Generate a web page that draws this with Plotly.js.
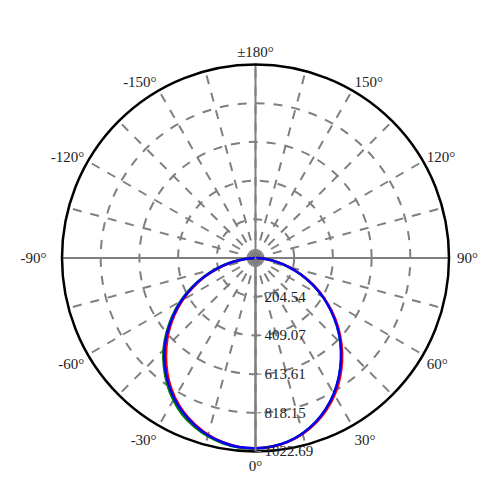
<!DOCTYPE html>
<html><head><meta charset="utf-8">
<script src="https://cdn.plot.ly/plotly-3.0.1.min.js"></script>
<style>html,body{margin:0;padding:0;background:#fff}#chart{width:500px;height:500px}</style>
</head><body><div id="chart"></div>
<script>
// Polar angles (degrees), 0° = downward
var angles = [-90,-85,-80,-75,-70,-65,-60,-55,-50,-45,-40,-35,-30,-25,-20,-15,-10,-5,0,5,10,15,20,25,30,35,40,45,50,55,60,65,70,75,80,85,90];
// Luminous intensity curves
var seriesRed   = [3,52,124,200,280,362,444,522,596,666,733,796,851,898,936,967,989,1002,1005,1001,987,963,929,886,836,777,712,643,570,494,416,337,258,182,112,48,3];
var seriesGreen = [3,56,130,208,292,376,459,538,614,688,753,814,868,914,948,975,994,1005,1007,1000,985,960,925,880,828,768,703,635,563,488,411,333,255,180,110,47,3];
var seriesBlue  = [3,55,128,205,287,370,452,530,607,680,745,805,858,903,940,970,990,1003,1005,1000,985,960,925,880,828,768,703,635,563,488,411,333,255,180,110,47,3];
var seriesNames = ['C0-C180','C90-C270','C45-C225'];
// Axis ticks
var radialTicks = [204.54, 409.07, 613.61, 818.15, 1022.69];
var radialTickText = ['204.54','409.07','613.61','818.15','1022.69'];
var angleTicks = [0,15,30,45,60,75,90,105,120,135,150,165,180,195,210,225,240,255,270,285,300,315,330,345];
var angleTickText = ['0°','','30°','','60°','','\u00a090°','','120°','','150°','','±180°','','-150°','','-120°','','-90°\u00a0\u00a0\u00a0','','-60°','','-30°',''];
var rMax = 1022.69;

var axisColor = '#7f7f7f';
var serif = 'Liberation Serif, Times New Roman, serif';
var traces = [
  {type:'scatterpolar', mode:'lines', r:[rMax,0,rMax], theta:[90,0,270], line:{color:axisColor,width:2}, hoverinfo:'skip', showlegend:false},
  {type:'scatterpolar', mode:'lines', r:[rMax,0,rMax], theta:[180,0,0], line:{color:axisColor,width:2}, hoverinfo:'skip', showlegend:false},
  {type:'scatterpolar', mode:'lines', name:seriesNames[1], r:seriesGreen, theta:angles, line:{color:'#008000',width:2.5,shape:'spline'}},
  {type:'scatterpolar', mode:'lines', name:seriesNames[0], r:seriesRed, theta:angles, line:{color:'#ff0000',width:2.5,shape:'spline'}},
  {type:'scatterpolar', mode:'lines', name:seriesNames[2], r:seriesBlue, theta:angles, line:{color:'#0000ff',width:2.5,shape:'spline'}}
];

var layout = {
  width:500, height:500,
  margin:{l:61.5, r:50.5, t:64, b:48},
  paper_bgcolor:'#fff',
  showlegend:false,
  font:{family:serif, size:15, color:'#222'},
  polar:{
    bgcolor:'#fff',
    domain:{x:[0,1], y:[0,1]},
    angularaxis:{
      rotation:270, direction:'counterclockwise',
      tickmode:'array', tickvals:angleTicks, ticktext:angleTickText,
      showline:true, linecolor:'#000', linewidth:2.5,
      ticks:'', showgrid:true, gridcolor:axisColor, gridwidth:2, griddash:'dash',
      tickfont:{family:serif, size:15, color:'#222'}
    },
    radialaxis:{
      range:[0,rMax], angle:270, tickangle:-90, side:'counterclockwise',
      tickmode:'array', tickvals:radialTicks, ticktext:radialTickText,
      showline:true, linecolor:axisColor, linewidth:2,
      ticks:'outside', ticklen:5, tickcolor:axisColor,
      showgrid:true, gridcolor:axisColor, gridwidth:2, griddash:'dash',
      tickfont:{family:serif, size:15, color:'#222'}
    }
  }
};
Plotly.newPlot('chart', traces, layout, {displayModeBar:false, staticPlot:true});
</script>
</body></html>
